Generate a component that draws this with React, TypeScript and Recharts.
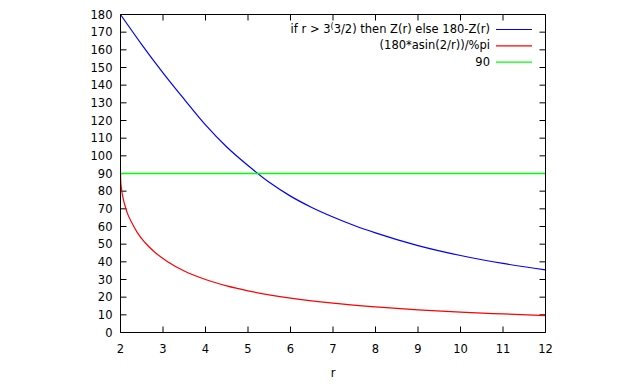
import React from 'react';
import { LineChart, Line, XAxis, YAxis, Legend, CartesianGrid } from 'recharts';

// ---- data ----
const xTicks = [2, 3, 4, 5, 6, 7, 8, 9, 10, 11, 12];
const yTicks = [0, 10, 20, 30, 40, 50, 60, 70, 80, 90, 100, 110, 120, 130, 140, 150, 160, 170, 180];

const blueR = [2, 2.5, 3, 3.5, 4, 4.5, 5, 5.5, 6, 6.5, 7, 7.5, 8, 9, 10, 11, 12];
const blueDeg = [180, 163, 147, 132, 117.5, 105, 94.5, 85, 77.2, 70.8, 65.4, 60.6, 56.4, 49.2, 43.6, 39.1, 35.5];

const redR = [2, 2.005, 2.02, 2.05, 2.1, 2.17, 2.27, 2.4, 2.58, 2.8, 3.1, 3.5, 4, 4.5, 5, 6, 7, 8, 9, 10, 11, 12];
const redDeg = [90, 86, 81.9, 77.3, 72.3, 67, 62, 56.4, 50.8, 45.6, 40.2, 34.8, 30, 26.4, 23.6, 19.5, 16.6, 14.5, 12.8, 11.5, 10.5, 9.6];

const greenR = [2, 12];
const greenDeg = [90, 90];

const seriesNames = [
  'if r > 3(3/2) then Z(r) else 180-Z(r)',
  '(180*asin(2/r))/%pi',
  '90',
];
const seriesColors = ['#0000ff', '#ff0000', '#00ff00'];
const xLabel = 'r';

const toRows = (rs: number[], vs: number[]) => rs.map((r, i) => ({ r, v: vs[i] }));

const blueData = toRows(blueR, blueDeg);
const redData = toRows(redR, redDeg);
const greenData = toRows(greenR, greenDeg);

const FONT = '"DejaVu Sans", Verdana, sans-serif';
const FS = 11.5;
const W = 632;
const H = 376;
const PLOT_W = 425;
const PLOT_H = 318;
const TICK = 6;

const renderLabelText = (s: string) => {
  const key = '3(3/2)';
  const idx = s.indexOf(key);
  if (idx < 0) return s;
  return (
    <>
      <tspan>{s.slice(0, idx + 1)}</tspan>
      <tspan dy={-4} fontSize={8}>(</tspan>
      <tspan dy={4}>{s.slice(idx + 2)}</tspan>
    </>
  );
};

const renderLegend = (props: any) => {
  const payload = [...(props.payload || [])].sort(
    (a: any, b: any) => seriesNames.indexOf(a.value) - seriesNames.indexOf(b.value)
  );
  return (
    <svg width={W} height={80} style={{ display: 'block' }}>
      {payload.map((p: any, i: number) => {
        const y = 21 + i * 16.3;
        return (
          <g key={i}>
            <text
              x={482}
              y={y}
              dy="0.35em"
              textAnchor="end"
              fontFamily={FONT}
              fontSize={FS}
              fill="#000"
            >
              {renderLabelText(String(p.value))}
            </text>
            <path d={`M488,${y + 0.5}H524`} stroke={p.color} strokeWidth={1.2} fill="none" />
          </g>
        );
      })}
    </svg>
  );
};

export default function App() {
  const common = { type: 'number' as const, allowDataOverflow: true, stroke: '#000' };
  const tickStyle = { fill: '#000', fontFamily: FONT, fontSize: FS };
  return (
    <LineChart
      width={W}
      height={H}
      margin={{ top: 5.5, left: 72.5, right: 93.5, bottom: 11.5 }}
      style={{ fontFamily: FONT }}
    >
      {/* inward tick marks on all four sides, drawn as dashed grid lines */}
      <CartesianGrid
        xAxisId="b"
        yAxisId="l"
        vertical={false}
        stroke="#000"
        strokeWidth={1}
        strokeDasharray={`${TICK} ${PLOT_W - 2 * TICK} ${TICK} 0`}
      />
      <CartesianGrid
        xAxisId="b"
        yAxisId="l"
        horizontal={false}
        stroke="#000"
        strokeWidth={1}
        strokeDasharray={`${TICK} ${PLOT_H - 2 * TICK} ${TICK} 0`}
      />
      <XAxis
        {...common}
        xAxisId="b"
        dataKey="r"
        domain={[2, 12]}
        ticks={xTicks}
        height={40}
        tickSize={0}
        tickMargin={12}
        tickLine={false}
        tick={tickStyle}
        interval={0}
        axisLine={{ stroke: '#000' }}
        label={{ value: xLabel, position: 'insideBottom', offset: -4, fill: '#000', fontFamily: FONT, fontSize: FS }}
      />
      <XAxis
        {...common}
        xAxisId="t"
        orientation="top"
        dataKey="r"
        domain={[2, 12]}
        ticks={xTicks}
        height={1}
        tickSize={0}
        tick={false}
        tickLine={false}
        axisLine={{ stroke: '#000' }}
      />
      <YAxis
        {...common}
        yAxisId="l"
        domain={[0, 180]}
        ticks={yTicks}
        width={40}
        tickSize={0}
        tickMargin={8}
        tickLine={false}
        tick={tickStyle}
        interval={0}
        axisLine={{ stroke: '#000' }}
      />
      <YAxis
        {...common}
        yAxisId="rt"
        orientation="right"
        domain={[0, 180]}
        ticks={yTicks}
        width={1}
        tickSize={0}
        tick={false}
        tickLine={false}
        axisLine={{ stroke: '#000' }}
      />
      <Legend
        layout="vertical"
        align="center"
        verticalAlign="middle"
        content={renderLegend}
        wrapperStyle={{ left: 0, top: 0, width: W, height: 80 }}
      />
      <Line
        xAxisId="b"
        yAxisId="l"
        data={blueData}
        dataKey="v"
        name={seriesNames[0]}
        stroke={seriesColors[0]}
        strokeWidth={1.2}
        type="monotone"
        dot={false}
        isAnimationActive={false}
      />
      <Line
        xAxisId="b"
        yAxisId="l"
        data={redData}
        dataKey="v"
        name={seriesNames[1]}
        stroke={seriesColors[1]}
        strokeWidth={1.2}
        type="monotone"
        dot={false}
        isAnimationActive={false}
      />
      <Line
        xAxisId="b"
        yAxisId="l"
        data={greenData}
        dataKey="v"
        name={seriesNames[2]}
        stroke={seriesColors[2]}
        strokeWidth={1.5}
        type="monotone"
        dot={false}
        isAnimationActive={false}
      />
    </LineChart>
  );
}
